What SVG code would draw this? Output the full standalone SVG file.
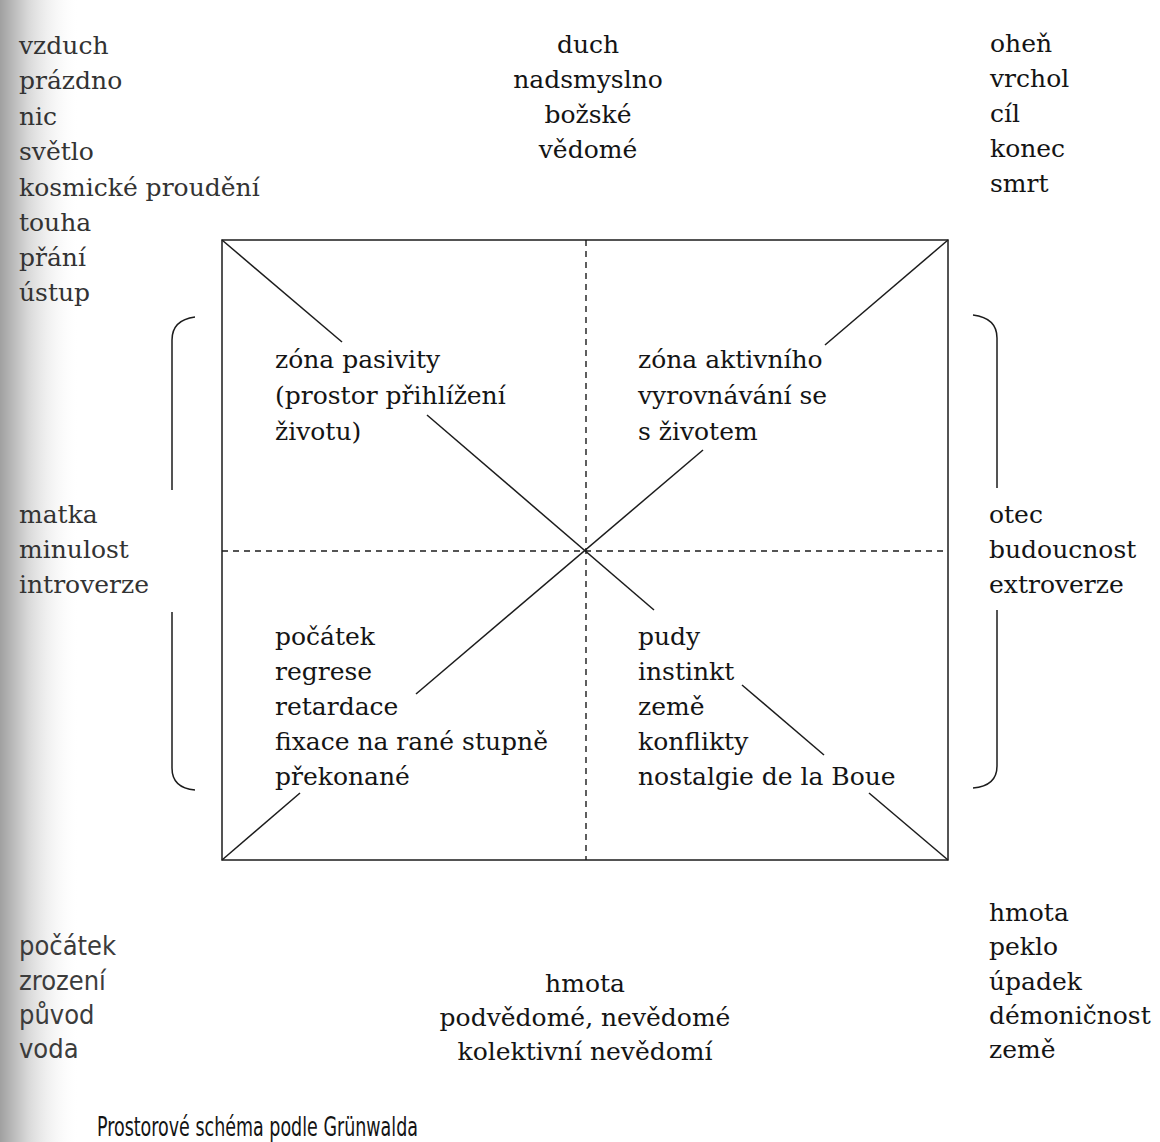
<svg xmlns="http://www.w3.org/2000/svg" width="1160" height="1142" viewBox="0 0 1160 1142">
  <defs>
    <linearGradient id="gutter" x1="0" y1="0" x2="1" y2="0">
      <stop offset="0" stop-color="#a0a0a0"/>
      <stop offset="0.35" stop-color="#d8d8d8"/>
      <stop offset="1" stop-color="#ffffff" stop-opacity="0"/>
    </linearGradient>
    <style>
      .t { font-family: "DejaVu Serif", "Liberation Serif", serif; font-size: 25px; fill: #141414; }
      .g { fill: #333333; }
      .c { text-anchor: middle; }
      .s { font-family: "DejaVu Sans", "Liberation Sans", sans-serif; font-stretch: condensed; font-size: 27px; fill: #3c3c3c; }
      .cap { font-family: "DejaVu Sans", "Liberation Sans", sans-serif; font-stretch: condensed; font-size: 27px; fill: #141414; }
      .ln { stroke: #1c1c1c; stroke-width: 1.5; fill: none; }
      .dash { stroke: #1c1c1c; stroke-width: 1.4; stroke-dasharray: 6 5; fill: none; }
    </style>
  </defs>
  <rect width="1160" height="1142" fill="#ffffff"/>
  <rect x="0" y="0" width="80" height="1142" fill="url(#gutter)"/>

  <g id="frame">
    <rect class="ln" x="222" y="240" width="726" height="620"/>
    <line class="dash" x1="586" y1="240" x2="586" y2="860"/>
    <line class="dash" x1="222" y1="551" x2="948" y2="551"/>
  </g>

  <g id="connectors">
    <line class="ln" x1="222" y1="240" x2="342" y2="342"/>
    <line class="ln" x1="427" y1="415" x2="654" y2="610"/>
    <line class="ln" x1="742" y1="685" x2="824" y2="755"/>
    <line class="ln" x1="869" y1="793" x2="948" y2="860"/>
    <line class="ln" x1="948" y1="240" x2="825" y2="345"/>
    <line class="ln" x1="703" y1="450" x2="416" y2="694"/>
    <line class="ln" x1="300" y1="793" x2="222" y2="860"/>
  </g>

  <g id="bracket-left">
    <path class="ln" d="M195,317 Q172,320 172,340 L172,490"/>
    <path class="ln" d="M172,612 L172,768 Q172,788 195,790"/>
  </g>
  <g id="bracket-right">
    <path class="ln" d="M973,315 Q997,318 997,338 L997,488"/>
    <path class="ln" d="M997,610 L997,766 Q997,786 973,788"/>
  </g>

  <g id="top-left">
    <text class="t g" x="19" y="54">vzduch</text>
    <text class="t g" x="19" y="89">prázdno</text>
    <text class="t g" x="19" y="125">nic</text>
    <text class="t g" x="19" y="160">světlo</text>
    <text class="t g" x="19" y="196">kosmické proudění</text>
    <text class="t g" x="19" y="231">touha</text>
    <text class="t g" x="19" y="266">přání</text>
    <text class="t g" x="19" y="301">ústup</text>
  </g>

  <g id="top-center">
    <text class="t c" x="588" y="53">duch</text>
    <text class="t c" x="588" y="88">nadsmyslno</text>
    <text class="t c" x="588" y="123">božské</text>
    <text class="t c" x="588" y="158">vědomé</text>
  </g>

  <g id="top-right">
    <text class="t" x="990" y="52">oheň</text>
    <text class="t" x="990" y="87">vrchol</text>
    <text class="t" x="990" y="122">cíl</text>
    <text class="t" x="990" y="157">konec</text>
    <text class="t" x="990" y="192">smrt</text>
  </g>

  <g id="middle-left">
    <text class="t g" x="19" y="523">matka</text>
    <text class="t g" x="19" y="558">minulost</text>
    <text class="t g" x="19" y="593">introverze</text>
  </g>

  <g id="middle-right">
    <text class="t" x="989" y="523">otec</text>
    <text class="t" x="989" y="558">budoucnost</text>
    <text class="t" x="989" y="593">extroverze</text>
  </g>

  <g id="zone-passive">
    <text class="t" x="275" y="368">zóna pasivity</text>
    <text class="t" x="275" y="404">(prostor přihlížení</text>
    <text class="t" x="275" y="440">životu)</text>
  </g>

  <g id="zone-active">
    <text class="t" x="638" y="368">zóna aktivního</text>
    <text class="t" x="638" y="404">vyrovnávání se</text>
    <text class="t" x="638" y="440">s životem</text>
  </g>

  <g id="zone-lower-left">
    <text class="t" x="275" y="645">počátek</text>
    <text class="t" x="275" y="680">regrese</text>
    <text class="t" x="275" y="715">retardace</text>
    <text class="t" x="275" y="750">fixace na rané stupně</text>
    <text class="t" x="275" y="785">překonané</text>
  </g>

  <g id="zone-lower-right">
    <text class="t" x="638" y="645">pudy</text>
    <text class="t" x="638" y="680">instinkt</text>
    <text class="t" x="638" y="715">země</text>
    <text class="t" x="638" y="750">konflikty</text>
    <text class="t" x="638" y="785">nostalgie de la Boue</text>
  </g>

  <g id="bottom-left">
    <text class="s" x="19" y="955">počátek</text>
    <text class="s" x="19" y="990">zrození</text>
    <text class="s" x="19" y="1024">původ</text>
    <text class="s" x="19" y="1058">voda</text>
  </g>

  <g id="bottom-center">
    <text class="t c" x="585" y="992">hmota</text>
    <text class="t c" x="585" y="1026">podvědomé, nevědomé</text>
    <text class="t c" x="585" y="1060">kolektivní nevědomí</text>
  </g>

  <g id="bottom-right">
    <text class="t" x="989" y="921">hmota</text>
    <text class="t" x="989" y="955">peklo</text>
    <text class="t" x="989" y="990">úpadek</text>
    <text class="t" x="989" y="1024">démoničnost</text>
    <text class="t" x="989" y="1058">země</text>
  </g>

  <g id="caption">
    <text class="cap" x="97" y="1136" textLength="321" lengthAdjust="spacingAndGlyphs">Prostorové schéma podle Grünwalda</text>
  </g>
</svg>
